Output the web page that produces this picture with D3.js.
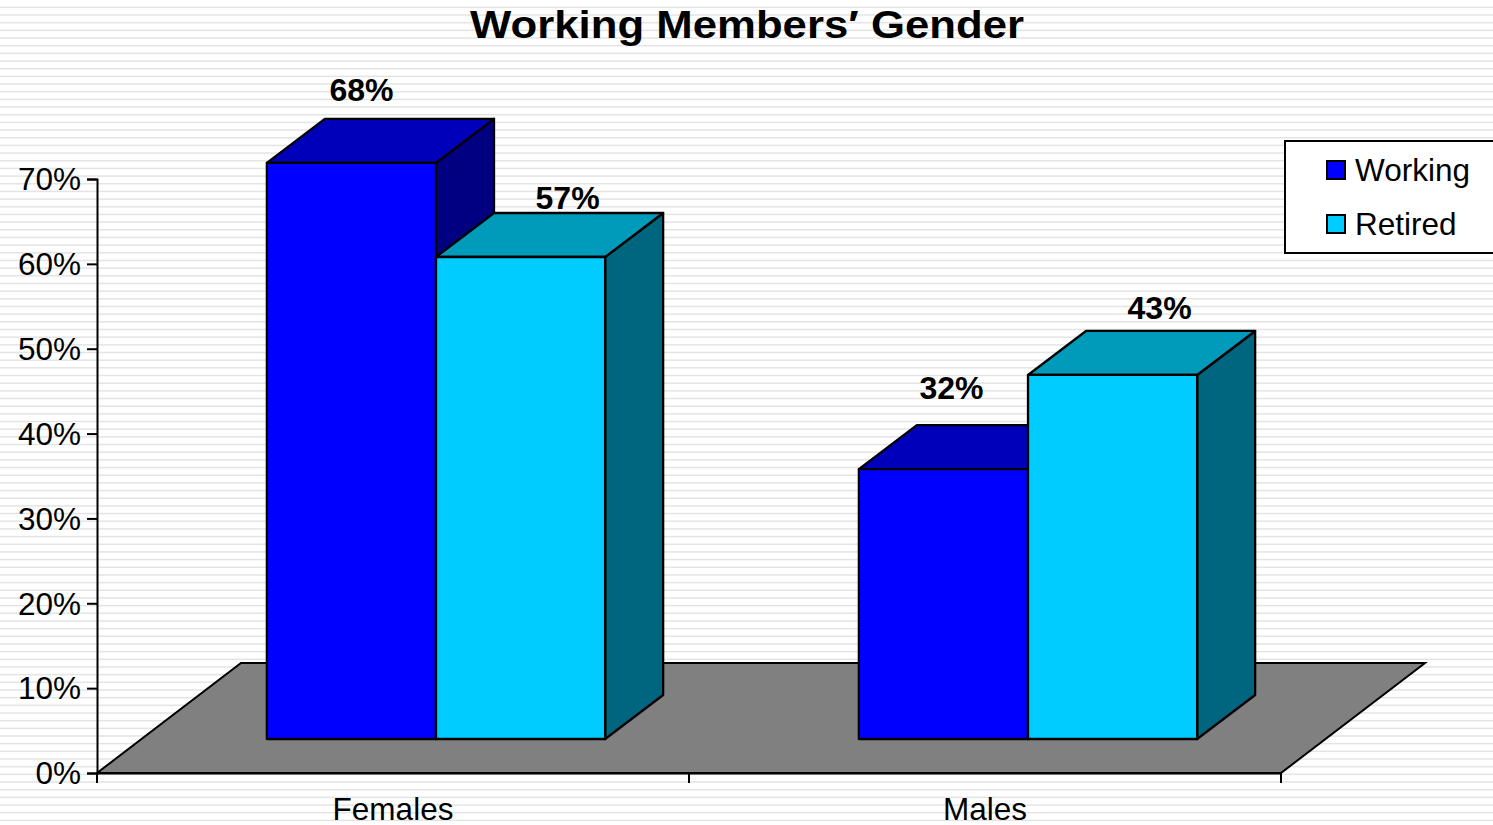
<!DOCTYPE html>
<html>
<head>
<meta charset="utf-8">
<script src="https://cdn.jsdelivr.net/npm/d3@7/dist/d3.min.js"></script>
<style>
    html, body { margin: 0; padding: 0; background: #fff; overflow: hidden; }
    svg { display: block; }
    text { font-family: "Liberation Sans", Arial, sans-serif; fill: #000; }
    .data-label { font-size: 32px; font-weight: bold; text-anchor: middle; }
    .title { font-size: 38px; font-weight: bold; }
</style>
</head>
<body>
<div id="vis"></div>
<script>
var categories = ['Females', 'Males'];
var seriesNames = ['Working', 'Retired'];
var working = [0.679, 0.318];
var retired = [0.568, 0.429];
var yTicks = [0, 0.1, 0.2, 0.3, 0.4, 0.5, 0.6, 0.7];

var width = 1493,
    height = 825,
    x0 = 97, x1 = 1281,
    y0 = 773, y1 = 179,
    labelFont = '31.5px';

// front face of the bars sits part way back on the floor
var floorDepth = {x: 144, y: -110},
    barInset = {x: 43, y: -34},
    barDepth = {x: 58, y: -44};

var colors = {
    Working: {front: '#0000ff', top: '#0000bb', side: '#000080'},
    Retired: {front: '#00ccff', top: '#009abb', side: '#006680'}
};

// hand placed in the original, so nudged per label
var labelNudge = {
    Females: {Working: [10, -18], Retired: [47, -4]},
    Males: {Working: [8, -26], Retired: [47, -12]}
};

var svg = d3.select('#vis')
    .append('svg')
    .attr('width', width)
    .attr('height', height);

svg.append('rect')
    .attr('width', width)
    .attr('height', height)
    .attr('fill', '#fff');

// slide background, thin grey stripes
svg.selectAll('.stripe')
    .data(d3.range(0, height, 7.67))
    .enter().append('rect')
    .attr('class', 'stripe')
    .attr('x', 0)
    .attr('y', function(d) { return d + 6.6; })
    .attr('width', width)
    .attr('height', 1.5)
    .attr('fill', '#e4e4e4');

var xScale = d3.scaleBand().domain(categories).range([x0, x1]);
var yScale = d3.scaleLinear().domain([0, 0.7]).range([y0, y1]);
var seriesScale = d3.scaleBand()
    .domain(seriesNames)
    .range([0, xScale.bandwidth()])
    .paddingInner(0)
    .paddingOuter(0.75);

var line = d3.line();

// floor
svg.append('path')
    .attr('d', line([
        [x0, y0], [x0 + floorDepth.x, y0 + floorDepth.y],
        [x1 + floorDepth.x, y0 + floorDepth.y], [x1, y0]
    ]) + 'Z')
    .attr('fill', '#808080')
    .attr('stroke', '#000')
    .attr('stroke-width', 2);

var rows = [];
categories.forEach(function(c, i) {
    rows.push({category: c, series: 'Working', value: working[i]});
    rows.push({category: c, series: 'Retired', value: retired[i]});
});

var bar = svg.selectAll('.bar')
    .data(rows)
    .enter().append('g')
    .attr('class', 'bar');

function barBox(d) {
    var left = xScale(d.category) + seriesScale(d.series) + barInset.x;
    return {
        left: left,
        right: left + seriesScale.bandwidth(),
        top: yScale(d.value) + barInset.y,
        bottom: yScale(0) + barInset.y
    };
}

bar.append('path')
    .attr('fill', function(d) { return colors[d.series].side; })
    .attr('d', function(d) {
        var b = barBox(d);
        return line([
            [b.right, b.top], [b.right + barDepth.x, b.top + barDepth.y],
            [b.right + barDepth.x, b.bottom + barDepth.y], [b.right, b.bottom]
        ]) + 'Z';
    });

bar.append('path')
    .attr('fill', function(d) { return colors[d.series].top; })
    .attr('d', function(d) {
        var b = barBox(d);
        return line([
            [b.left, b.top], [b.left + barDepth.x, b.top + barDepth.y],
            [b.right + barDepth.x, b.top + barDepth.y], [b.right, b.top]
        ]) + 'Z';
    });

bar.append('rect')
    .attr('fill', function(d) { return colors[d.series].front; })
    .attr('x', function(d) { return barBox(d).left; })
    .attr('y', function(d) { return barBox(d).top; })
    .attr('width', seriesScale.bandwidth())
    .attr('height', function(d) { var b = barBox(d); return b.bottom - b.top; });

bar.selectAll('path, rect')
    .attr('stroke', '#000')
    .attr('stroke-width', 2.3)
    .attr('stroke-linejoin', 'round');

// labels go on after every bar, the 57% sits over the neighbour
svg.selectAll('.data-label')
    .data(rows)
    .enter().append('text')
    .attr('class', 'data-label')
    .attr('x', function(d) {
        var b = barBox(d);
        return (b.left + b.right) / 2 + labelNudge[d.category][d.series][0];
    })
    .attr('y', function(d) {
        return barBox(d).top + barDepth.y + labelNudge[d.category][d.series][1];
    })
    .text(function(d) { return d3.format('.0%')(d.value); });

// axes
var yAxis = d3.axisLeft(yScale)
    .tickValues(yTicks)
    .tickFormat(d3.format('.0%'))
    .tickSizeOuter(0)
    .tickSize(10)
    .tickPadding(6);

var yAxisG = svg.append('g')
    .attr('transform', 'translate(' + x0 + ',0)')
    .call(yAxis);

yAxisG.selectAll('text')
    .attr('dy', '0.34em')
    .style('font-size', labelFont)
    .style('font-family', '"Liberation Sans", Arial, sans-serif');

var xAxis = d3.axisBottom(xScale).tickSize(0).tickPadding(25);

var xAxisG = svg.append('g')
    .attr('transform', 'translate(0,' + y0 + ')')
    .call(xAxis);

xAxisG.selectAll('text')
    .style('font-size', labelFont)
    .style('font-family', '"Liberation Sans", Arial, sans-serif');

xAxisG.selectAll('.tick line').remove();

// category ticks fall between the bands, not on their centres
xAxisG.selectAll('.edge')
    .data([x0, xScale('Males'), x1])
    .enter().append('line')
    .attr('class', 'edge')
    .attr('x1', function(d) { return d; })
    .attr('x2', function(d) { return d; })
    .attr('y1', 0)
    .attr('y2', 10);

svg.selectAll('.domain, .tick line, .edge')
    .attr('stroke', '#000')
    .attr('stroke-width', 2);

// title
svg.append('text')
    .attr('class', 'title')
    .attr('x', 470)
    .attr('y', 38)
    .attr('textLength', 554)
    .attr('lengthAdjust', 'spacingAndGlyphs')
    .text('Working Members\u2032 Gender');

// legend
var legend = svg.append('g').attr('transform', 'translate(1285,141)');

legend.append('rect')
    .attr('width', 214)
    .attr('height', 112)
    .attr('fill', '#fff')
    .attr('stroke', '#000')
    .attr('stroke-width', 2);

var legendItem = legend.selectAll('.item')
    .data(seriesNames)
    .enter().append('g')
    .attr('class', 'item')
    .attr('transform', function(d, i) { return 'translate(42,' + (20 + i * 54) + ')'; });

legendItem.append('rect')
    .attr('width', 18)
    .attr('height', 18)
    .attr('fill', function(d) { return colors[d].front; })
    .attr('stroke', '#000')
    .attr('stroke-width', 2);

legendItem.append('text')
    .attr('x', 28)
    .attr('y', 20)
    .style('font-size', labelFont)
    .text(function(d) { return d; });
</script>
</body>
</html>
